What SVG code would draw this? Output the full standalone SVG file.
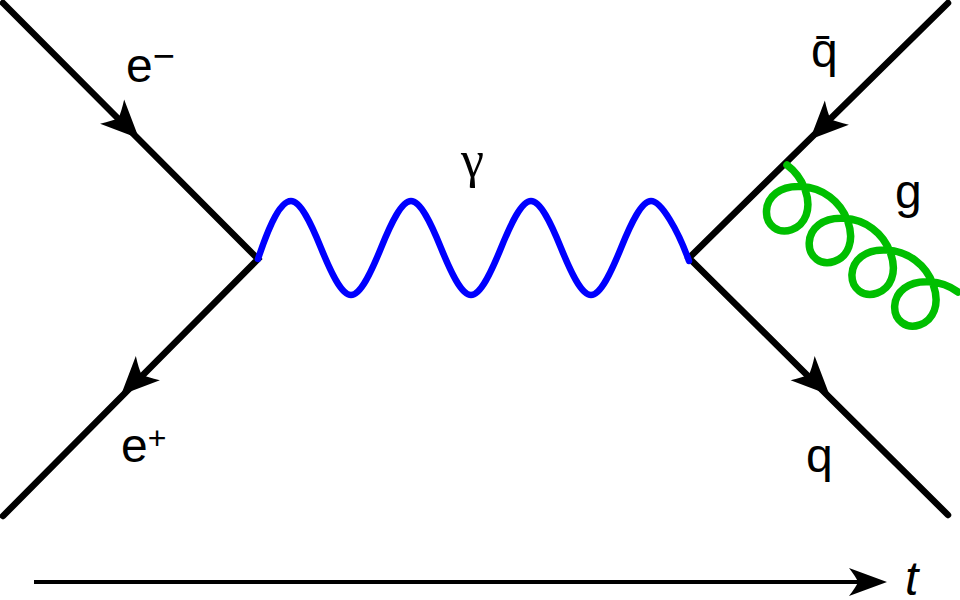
<svg xmlns="http://www.w3.org/2000/svg" width="960" height="600" viewBox="0 0 960 600">
<style>
.fermion{fill:none;stroke:#000;stroke-width:6.5;stroke-linecap:round;stroke-linejoin:miter}
.photon{fill:none;stroke:#0000ff;stroke-width:6.5;stroke-linecap:round}
.gluon{fill:none;stroke:#00bf00;stroke-width:7.5;stroke-linecap:round}
.lbl{font-family:"Liberation Sans",Arial,sans-serif;font-size:48px;fill:#000}
.head{fill:#000}
</style>
<defs>
<path id="arr" d="M0,0 L-38,-17 Q-31,-6 -29,0 Q-31,6 -38,17 Z"/>
<path id="tarr" d="M0,0 L-38,-14 Q-31,-5 -29,0 Q-31,5 -38,14 Z"/>
</defs>
<rect width="960" height="600" fill="#fff"/>
<g id="connectors">
<g id="electrons">
<path class="fermion" d="M3,3 L258,259 L3,516"/>
<use href="#arr" class="head" transform="translate(139,138.5) rotate(45)"/>
<use href="#arr" class="head" transform="translate(121,395) rotate(135)"/>
</g>
<g id="quarks">
<path class="fermion" d="M948,3 L689,258 L948,515"/>
<use href="#arr" class="head" transform="translate(810,139.5) rotate(135)"/>
<use href="#arr" class="head" transform="translate(829.5,395) rotate(45)"/>
</g>
<g id="photon">
<path class="photon" d="M258,259 C265,238 278,201 291,201 c 9.55,0 20.22,22.93 30,47 c 9.78,24.07 20.45,47 30,47 c 9.55,0 20.22,-22.93 30,-47 c 9.78,-24.07 20.45,-47 30,-47 c 9.55,0 20.22,22.93 30,47 c 9.78,24.07 20.45,47 30,47 c 9.55,0 20.22,-22.93 30,-47 c 9.78,-24.07 20.45,-47 30,-47 c 9.55,0 20.22,22.93 30,47 c 9.78,24.07 20.45,47 30,47 c 9.55,0 20.22,-22.93 30,-47 c 9.78,-24.07 20.45,-47 30,-47 C661,201 678,230 689,261"/>
</g>
<g id="gluon" transform="translate(787,165) rotate(36.6)">
<path class="gluon" d="M0,0 c 21.19,0 40.87,13.82 45.30,29 c 4.43,15.18 -6.37,29 -18.69,29 c -12.32,0 -23.13,-13.82 -18.70,-29 c 4.43,-15.18 24.12,-29 45.31,-29 c 21.19,0 40.87,13.82 45.30,29 c 4.43,15.18 -6.37,29 -18.69,29 c -12.32,0 -23.13,-13.82 -18.70,-29 c 4.43,-15.18 24.12,-29 45.31,-29 c 21.19,0 40.87,13.82 45.30,29 c 4.43,15.18 -6.37,29 -18.69,29 c -12.32,0 -23.13,-13.82 -18.70,-29 c 4.43,-15.18 24.12,-29 45.31,-29 c 21.19,0 40.87,13.82 45.30,29 c 4.43,15.18 -6.37,29 -18.69,29 c -12.32,0 -23.13,-13.82 -18.70,-29 c 4.43,-15.18 24.12,-29 45.31,-29"/>
</g>
<g id="time-axis">
<path d="M34,582 L862,582" stroke="#000" stroke-width="4" fill="none"/>
<use href="#tarr" class="head" transform="translate(887,582)"/>
</g>
</g>
<g id="labels">
<text id="label-e-minus" class="lbl" x="126" y="82">e<tspan font-size="38" dy="-13.5">−</tspan></text>
<text id="label-e-plus" class="lbl" x="121" y="462">e<tspan font-size="32" dy="-12.6">+</tspan></text>
<text id="label-gamma" x="461" y="177" style="font-family:'Liberation Serif','Times New Roman',serif;font-size:52px">γ</text>
<text id="label-qbar" class="lbl" x="811" y="67">q̄</text>
<text id="label-g" class="lbl" x="895" y="208">g</text>
<text id="label-q" class="lbl" x="806" y="472">q</text>
<text id="label-t" class="lbl" x="905" y="595" font-style="italic">t</text>
</g>
</svg>
